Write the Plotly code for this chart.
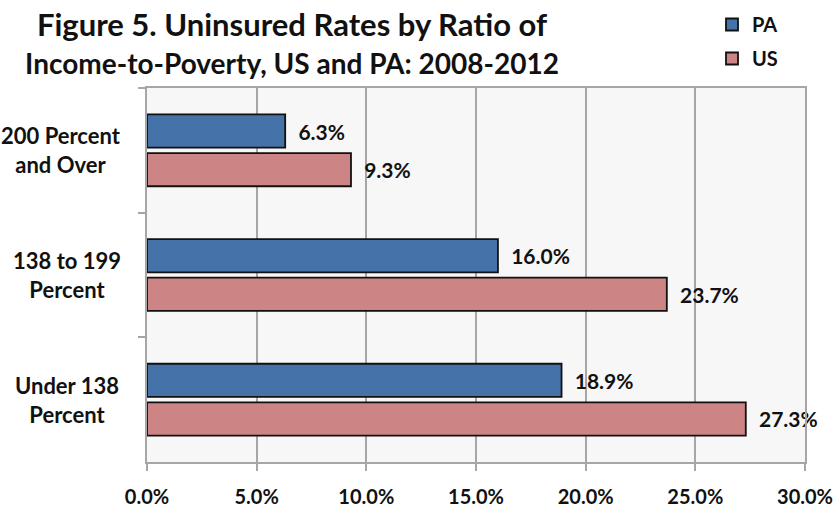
import plotly.graph_objects as go

categories = ["200 Percent<br>and Over", "138 to 199<br>Percent", "Under 138<br>Percent"]
pa_values = [6.3, 16.0, 18.9]
us_values = [9.3, 23.7, 27.3]
x_ticks = [0, 5, 10, 15, 20, 25, 30]
x_tick_labels = ["0.0%", "5.0%", "10.0%", "15.0%", "20.0%", "25.0%", "30.0%"]
title_line1 = "Figure 5. Uninsured Rates by Ratio of"
title_line2 = "Income-to-Poverty, US and PA: 2008-2012"

FONT = "Lato"
W, H = 839, 510
ML, MR, MT, MB = 147, 34, 88, 48
PW = W - ML - MR
PH = H - MT - MB

fig = go.Figure()
fig.add_trace(go.Bar(
    y=categories, x=pa_values, orientation="h", name="<b>PA</b>",
    marker=dict(color="#4672aa", line=dict(color="#111111", width=1.8)),
    texttemplate="<b>\u00a0\u00a0%{x:.1f}%</b>", textposition="outside",
    textfont=dict(family=FONT, size=21, color="#111111"),
    cliponaxis=False, legendgroup="a",
))
fig.add_trace(go.Bar(
    y=categories, x=us_values, orientation="h", name="<b>US</b>",
    marker=dict(color="#cc8484", line=dict(color="#111111", width=1.8)),
    texttemplate="<b>\u00a0\u00a0%{x:.1f}%</b>", textposition="outside",
    textfont=dict(family=FONT, size=21, color="#111111"),
    cliponaxis=False, legendgroup="b",
))

label_x = [61, 67, 67]
for cat, lx in zip(categories, label_x):
    fig.add_annotation(
        x=(lx - ML) / PW, xref="paper", y=cat, yref="y",
        text="<b>" + cat + "</b>", showarrow=False, align="center",
        xanchor="center", yanchor="middle",
        font=dict(family=FONT, size=22, color="#111111"),
    )

title_html = ("<b><span style='font-size:31px'>" + title_line1 + "</span><br>"
              "<span style='font-size:28px'>" + title_line2 + "</span></b>")

fig.update_layout(
    width=W, height=H,
    margin=dict(l=ML, r=MR, t=MT, b=MB, autoexpand=False),
    paper_bgcolor="white", plot_bgcolor="#f7f7f7",
    barmode="group", bargap=0.38, bargroupgap=0.14,
    font=dict(family=FONT, color="#111111"),
    title=dict(text=title_html, x=292 / W, xanchor="center",
               y=1 - 36 / H, yanchor="middle",
               font=dict(family=FONT, size=29, color="#111111")),
    legend=dict(x=(712 - ML) / PW, xanchor="left", y=1 + (MT - 5) / PH, yanchor="top",
                font=dict(family=FONT, size=20, color="#111111"),
                traceorder="grouped", tracegroupgap=5, bgcolor="rgba(0,0,0,0)",
                itemwidth=30),
    showlegend=True,
)
fig.update_xaxes(
    range=[0, 30], tickvals=x_ticks, ticktext=["<b>" + t + "</b>" for t in x_tick_labels],
    showgrid=True, gridcolor="#a6a6a6", gridwidth=1.5,
    ticks="outside", ticklen=7, tickcolor="#a6a6a6", tickwidth=1.5,
    showline=True, linecolor="#a6a6a6", linewidth=1.5, mirror=True,
    tickfont=dict(family=FONT, size=20, color="#111111"),
    ticklabelstandoff=9, zeroline=False,
)
fig.update_yaxes(
    autorange="reversed", showticklabels=False,
    ticks="outside", tickson="boundaries", ticklen=7, tickcolor="#a6a6a6", tickwidth=1.5,
    showline=True, linecolor="#a6a6a6", linewidth=1.5, mirror=True, showgrid=False,
)

fig.write_html("out.html", config={"displayModeBar": False},
               post_script="document.body.style.margin='0';")
